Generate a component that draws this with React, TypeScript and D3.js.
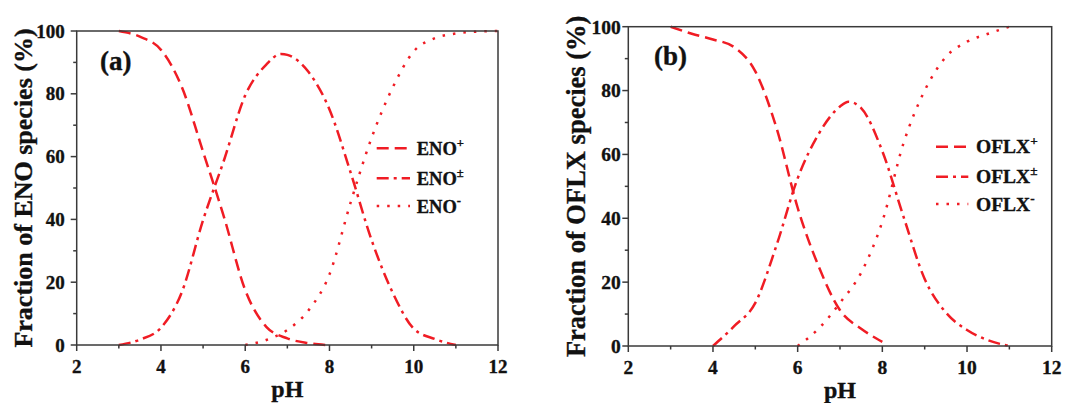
import React from "react";
import * as d3 from "d3";

// ---------- data ----------
const xTicks = [2, 4, 6, 8, 10, 12];
const xMinorTicks = [3, 5, 7, 9, 11];
const yTicks = [0, 20, 40, 60, 80, 100];
const yMinorTicks = [10, 30, 50, 70, 90];

// (a) ENO
const enoPlusPH = [3, 3.5, 4, 4.5, 5, 5.5, 6, 6.5, 7, 7.5, 7.9];
const enoPlusVal = [100, 98.2, 94, 82, 61.5, 40.6, 17.5, 5.8, 2.1, 0.6, 0];
const enoZwPH = [3, 3.5, 4, 4.5, 5, 5.5, 6, 6.5, 6.85, 7, 7.5, 8, 8.5, 9, 9.5, 10, 10.5, 11];
const enoZwVal = [0, 1.7, 5.5, 17, 39.8, 59, 79.5, 89.3, 92.7, 92.4, 87, 75, 55, 33.4, 16.7, 5.2, 1.9, 0];
const enoMinusPH = [6, 6.5, 7, 7.5, 8, 8.5, 9, 9.5, 10, 10.5, 11, 11.5, 12];
const enoMinusVal = [0, 1.6, 4.8, 11, 22.5, 45.3, 66, 82, 93.5, 97.7, 99.2, 99.8, 100];

// (b) OFLX
const oflxPlusPH = [3, 3.5, 4, 4.5, 5, 5.5, 6, 6.5, 7, 7.5, 8];
const oflxPlusVal = [100, 97.8, 96, 93.6, 86, 68.3, 43.3, 24.8, 11.2, 5.4, 1.3];
const oflxZwPH = [4, 4.5, 5, 5.5, 6, 6.5, 7, 7.2, 7.5, 8, 8.5, 9, 9.5, 10, 10.5, 11];
const oflxZwVal = [0, 6.2, 13.5, 31.5, 52.5, 66.5, 75, 76.5, 74.5, 61, 40.5, 21, 10.5, 5, 1.8, 0];
const oflxMinusPH = [6, 6.5, 7, 7.5, 8, 8.5, 9, 9.5, 10, 10.5, 11];
const oflxMinusVal = [0, 5.5, 13.5, 23, 39, 63.5, 80, 90.5, 95.3, 97.8, 100];

const legendA = ["ENO", "ENO", "ENO"];
const legendB = ["OFLX", "OFLX", "OFLX"];
const legendSup = ["+", "±", "-"];

// ---------- styles ----------
const RED = "#f01c24";
const AXIS = "#3a3a3a";
const INK = "#111";
const FONT = "'Liberation Serif','Times New Roman',serif";
const DASHES = ["12,6", "12,5,3,5", "2.5,8"];
const TXT = { fontFamily: FONT, fontWeight: "bold" as const, fill: INK, stroke: INK, strokeWidth: 0.35 };

type Series = { ph: number[]; val: number[] };

type PanelProps = {
  left: number; right: number; top: number; bottom: number;
  series: Series[];
  legendNames: string[];
  yTitle: string;
  tag: string;
  tickFont: number; yLabelGap: number; xLabelBase: number;
  titleX: number; titleFont: number;
  phBase: number; phFont: number;
  tagX: number; tagBase: number;
  legX1: number; legX2: number; legTextX: number; legRows: number[]; legFont: number;
};

function Panel(p: PanelProps) {
  const x = d3.scaleLinear().domain([2, 12]).range([p.left, p.right]);
  const y = d3.scaleLinear().domain([0, 100]).range([p.bottom, p.top]);
  const line = d3.line<[number, number]>().x((d) => x(d[0])).y((d) => y(d[1])).curve(d3.curveMonotoneX);
  const cy = (p.top + p.bottom) / 2;
  const cx = (p.left + p.right) / 2;
  return (
    <g>
      {p.series.map((s, i) => (
        <path key={i} d={line(s.ph.map((v, j) => [v, s.val[j]]) as [number, number][]) || ""}
          fill="none" stroke={RED} strokeWidth={2.5} strokeDasharray={DASHES[i]} />
      ))}
      <rect x={p.left} y={p.top} width={p.right - p.left} height={p.bottom - p.top}
        fill="none" stroke={AXIS} strokeWidth={1.5} />
      {xTicks.map((t) => (
        <g key={"x" + t}>
          <line x1={x(t)} x2={x(t)} y1={p.bottom} y2={p.bottom + 6} stroke={AXIS} strokeWidth={1.5} />
          <text x={x(t)} y={p.xLabelBase} textAnchor="middle" fontSize={p.tickFont} {...TXT}>{t}</text>
        </g>
      ))}
      {xMinorTicks.map((t) => (
        <line key={"xm" + t} x1={x(t)} x2={x(t)} y1={p.bottom} y2={p.bottom + 3.5} stroke={AXIS} strokeWidth={1.5} />
      ))}
      {yTicks.map((t) => (
        <g key={"y" + t}>
          <line x1={p.left - 6} x2={p.left} y1={y(t)} y2={y(t)} stroke={AXIS} strokeWidth={1.5} />
          <text x={p.left - p.yLabelGap} y={y(t)} dy="0.35em" textAnchor="end" fontSize={p.tickFont} {...TXT}>{t}</text>
        </g>
      ))}
      {yMinorTicks.map((t) => (
        <line key={"ym" + t} x1={p.left - 3.5} x2={p.left} y1={y(t)} y2={y(t)} stroke={AXIS} strokeWidth={1.5} />
      ))}
      <text transform={`translate(${p.titleX},${cy}) rotate(-90)`} textAnchor="middle"
        fontSize={p.titleFont} {...TXT}>{p.yTitle}</text>
      <text x={cx} y={p.phBase} textAnchor="middle" fontSize={p.phFont} {...TXT}>pH</text>
      <text x={p.tagX} y={p.tagBase} fontSize={27} {...TXT}>{p.tag}</text>
      {p.legendNames.map((n, i) => (
        <g key={"l" + i}>
          <line x1={p.legX1} x2={p.legX2} y1={p.legRows[i]} y2={p.legRows[i]} stroke={RED} strokeWidth={2.5} strokeDasharray={DASHES[i]} />
          <text x={p.legTextX} y={p.legRows[i] + 6.5} fontSize={p.legFont} {...TXT}>
            {n}
            <tspan dy={-8} fontSize={p.legFont * 0.68}>{legendSup[i]}</tspan>
          </text>
        </g>
      ))}
    </g>
  );
}

export default function App() {
  return (
    <svg width={1071} height={403} style={{ position: "absolute", left: 0, top: 0, background: "#fff" }}>
      <rect width={1071} height={403} fill="#fff" />
      <Panel
        left={76.7} right={498} top={31} bottom={345}
        series={[
          { ph: enoPlusPH, val: enoPlusVal },
          { ph: enoZwPH, val: enoZwVal },
          { ph: enoMinusPH, val: enoMinusVal },
        ]}
        legendNames={legendA}
        yTitle="Fraction of ENO species (%)"
        tag="(a)"
        tickFont={19} yLabelGap={12} xLabelBase={372.5}
        titleX={31.5} titleFont={26}
        phBase={396.5} phFont={24}
        tagX={100} tagBase={70}
        legX1={376.7} legX2={410} legTextX={416.7} legRows={[148.3, 178.3, 206]} legFont={18.5}
      />
      <Panel
        left={628.3} right={1051.7} top={26.7} bottom={346}
        series={[
          { ph: oflxPlusPH, val: oflxPlusVal },
          { ph: oflxZwPH, val: oflxZwVal },
          { ph: oflxMinusPH, val: oflxMinusVal },
        ]}
        legendNames={legendB}
        yTitle="Fraction of OFLX species (%)"
        tag="(b)"
        tickFont={19.5} yLabelGap={7.5} xLabelBase={373.5}
        titleX={585} titleFont={26.5}
        phBase={398} phFont={24}
        tagX={654} tagBase={65}
        legX1={936} legX2={968.3} legTextX={976} legRows={[146.7, 176.7, 204]} legFont={19.5}
      />
    </svg>
  );
}
